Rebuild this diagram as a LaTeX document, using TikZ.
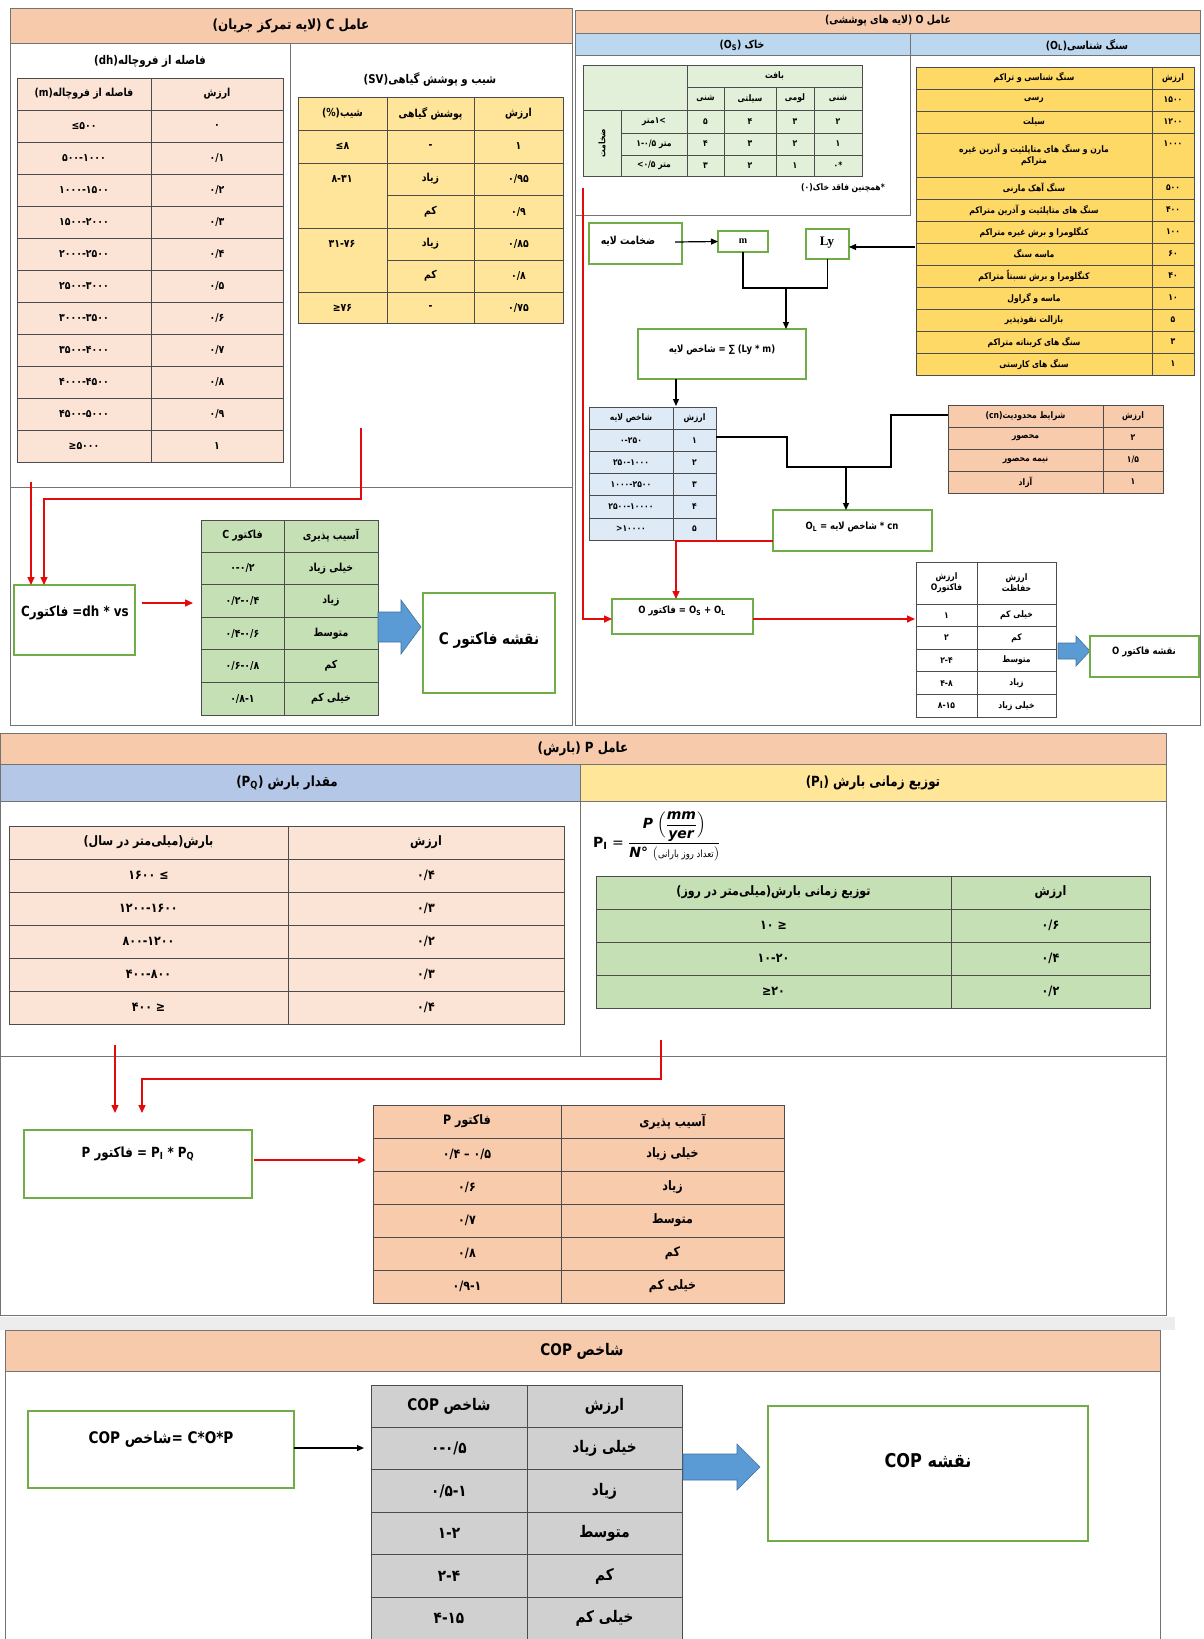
\documentclass[tikz,border=0pt]{standalone}
\usepackage{amsmath}
\usepackage{fontspec}
\setmainfont{DejaVu Sans}
\newfontfamily\farsi[Script=Arabic,FakeStretch=0.85]{DejaVu Sans}
\newfontfamily\farnum[FakeStretch=0.85]{DejaVu Sans}
\newfontfamily\serif{Liberation Serif}
\TeXXeTstate=1
\usetikzlibrary{arrows.meta}
\definecolor{hdrorange}{RGB}{247,202,172}
\definecolor{peach}{RGB}{251,228,213}
\definecolor{peachdk}{RGB}{248,203,173}
\definecolor{yel}{RGB}{255,229,153}
\definecolor{yeldk}{RGB}{255,217,102}
\definecolor{grn}{RGB}{197,224,180}
\definecolor{grnlt}{RGB}{226,239,217}
\definecolor{bluhdr}{RGB}{189,215,238}
\definecolor{blupq}{RGB}{180,199,231}
\definecolor{bluecell}{RGB}{222,235,247}
\definecolor{yelhdr}{RGB}{255,230,153}
\definecolor{grayc}{RGB}{208,208,208}
\definecolor{boxgreen}{RGB}{112,173,71}
\definecolor{arrowblue}{RGB}{91,155,213}
\definecolor{arrowbluedk}{RGB}{65,113,156}
\definecolor{redline}{RGB}{228,10,10}
\newcounter{cc}
\newcommand\tfill{white}
\newcommand\cfont{\farnum\bfseries\fontsize{11}{13}\selectfont}
\newcommand\fa[1]{{\farsi\beginR #1\endR}}
\newcommand\cbox[5]{\stepcounter{cc}%
  \draw[cellbox, fill=\tfill] ({#1},{#2}) rectangle ({#3},{#4});%
  \node[ctext] (n\thecc) at ({((#1)+(#3))/2},{((#2)+(#4))/2}) {#5};}
\newcommand\rtwo[4]{\cbox{\cA}{#1}{\cB}{#2}{#3}\cbox{\cB}{#1}{\cC}{#2}{#4}}
\newcommand\rthree[5]{\cbox{\cA}{#1}{\cB}{#2}{#3}\cbox{\cB}{#1}{\cC}{#2}{#4}\cbox{\cC}{#1}{\cD}{#2}{#5}}
\newcommand\urtwo[3]{\rtwo{\yT+\rH*#1}{\yT+\rH*#1+\rH}{#2}{#3}}
\newcommand\osrow[7]{\cbox{621}{#1}{687}{#2}{#3}\cbox{687}{#1}{724}{#2}{#4}\cbox{724}{#1}{776}{#2}{#5}\cbox{776}{#1}{814}{#2}{#6}\cbox{814}{#1}{862}{#2}{#7}}
\newcommand\gbox[5]{\node[gboxst, minimum width={#4-#2}, minimum height={#5-#3}] (#1) at ({(#2+#4)/2},{(#3+#5)/2}) {};}
\newcommand\barrow[6]{\filldraw[barrowst] ({#1},{#4-#5}) -- ({#3},{#4-#5}) -- ({#3},{#4-#6}) -- ({#2},{#4}) -- ({#3},{#4+#6}) -- ({#3},{#4+#5}) -- ({#1},{#4+#5}) -- cycle;}
\begin{document}
\begin{tikzpicture}[x=1pt,y=-1pt,
  cellbox/.style={draw=black!70, line width=0.7pt},
  ctext/.style={font=\cfont, inner sep=1pt, align=center},
  gboxst/.style={draw=boxgreen, line width=1.2pt, fill=white, inner sep=0pt, outer sep=0pt},
  btext/.style={font=\farnum\bfseries\fontsize{13}{15}\selectfont, inner sep=1pt, align=center},
  hdr/.style={font=\farnum\bfseries\fontsize{13}{15}\selectfont, inner sep=1pt},
  frameln/.style={draw=black!55, line width=0.8pt},
  redarr/.style={draw=redline, line width=1.5pt, -{Triangle[length=8pt,width=7pt]}},
  blkarr/.style={draw=black, line width=1.2pt, -{Triangle[length=7pt,width=6pt]}},
  blkln/.style={draw=black, line width=1.2pt},
  barrowst/.style={fill=arrowblue, draw=arrowbluedk, line width=0.6pt},
]
\useasboundingbox (0,0) rectangle (1203,1639);
\fill[white] (0,0) rectangle (1203,1639);

% ================= C panel
\filldraw[fill=hdrorange, draw=black!55, line width=0.8pt] (10,8) rectangle (572,43);
\node[hdr, font=\farnum\bfseries\fontsize{14}{16}\selectfont] (hC) at (291,26) {(\fa{لایه تمرکز جریان}) C \fa{عامل}};
\draw[frameln] (10,43) -- (10,725) -- (572,725) -- (572,43);
\draw[frameln] (290,43) -- (290,487);
\draw[frameln] (10,487) -- (572,487);
\node[hdr, font=\farnum\bfseries\fontsize{12}{14}\selectfont] (tdh) at (150,61) {(dh)\fa{فاصله از فروچاله}};
\node[hdr, font=\farnum\bfseries\fontsize{12}{14}\selectfont] (tsv) at (430,80) {(SV)\fa{شیب و پوشش گیاهی}};

% dh table
\renewcommand\tfill{peach}
\def\cA{17}\def\cB{151}\def\cC{283}
\rtwo{78}{110}{(m)\fa{فاصله از فروچاله}}{\fa{ارزش}}
\def\yT{110}\def\rH{32}
\urtwo{0}{≤۵۰۰}{۰}
\urtwo{1}{۵۰۰-۱۰۰۰}{۰/۱}
\urtwo{2}{۱۰۰۰-۱۵۰۰}{۰/۲}
\urtwo{3}{۱۵۰۰-۲۰۰۰}{۰/۳}
\urtwo{4}{۲۰۰۰-۲۵۰۰}{۰/۴}
\urtwo{5}{۲۵۰۰-۳۰۰۰}{۰/۵}
\urtwo{6}{۳۰۰۰-۳۵۰۰}{۰/۶}
\urtwo{7}{۳۵۰۰-۴۰۰۰}{۰/۷}
\urtwo{8}{۴۰۰۰-۴۵۰۰}{۰/۸}
\urtwo{9}{۴۵۰۰-۵۰۰۰}{۰/۹}
\urtwo{10}{≥۵۰۰۰}{۱}

% sv table
\renewcommand\tfill{yel}
\def\cA{298}\def\cB{387}\def\cC{474}\def\cD{563}
\rthree{97}{130}{(\%)\fa{شیب}}{\fa{پوشش گیاهی}}{\fa{ارزش}}
\rthree{130}{163}{≤۸}{-}{۱}
\cbox{298}{163}{387}{228}{}
\node[ctext] (sv1) at (342,179) {۸-۳۱};
\cbox{387}{163}{474}{195}{\fa{زیاد}}\cbox{474}{163}{563}{195}{۰/۹۵}
\cbox{387}{195}{474}{228}{\fa{کم}}\cbox{474}{195}{563}{228}{۰/۹}
\cbox{298}{228}{387}{292}{}
\node[ctext] (sv2) at (342,244) {۳۱-۷۶};
\cbox{387}{228}{474}{260}{\fa{زیاد}}\cbox{474}{228}{563}{260}{۰/۸۵}
\cbox{387}{260}{474}{292}{\fa{کم}}\cbox{474}{260}{563}{292}{۰/۸}
\rthree{292}{323}{≥۷۶}{-}{۰/۷۵}

% C lower
\gbox{bCf}{14}{585}{135}{655}
\node[btext, font=\farnum\bfseries\fontsize{14}{16}\selectfont] (tCf) at (75,613) {C\fa{فاکتور} =dh * vs};
\renewcommand\tfill{grn}
\def\cA{201}\def\cB{284}\def\cC{378}
\rtwo{520}{552}{\fa{فاکتور C}}{\fa{آسیب پذیری}}
\def\yT{552}\def\rH{32.6}
\urtwo{0}{۰-۰/۲}{\fa{خیلی زیاد}}
\urtwo{1}{۰/۲-۰/۴}{\fa{زیاد}}
\urtwo{2}{۰/۴-۰/۶}{\fa{متوسط}}
\urtwo{3}{۰/۶-۰/۸}{\fa{کم}}
\urtwo{4}{۰/۸-۱}{\fa{خیلی کم}}
\barrow{378}{421}{401}{627}{15}{27}
\gbox{bCmap}{423}{593}{555}{693}
\node[btext, font=\farnum\bfseries\fontsize{16}{18}\selectfont] (tCmap) at (489,640) {\fa{نقشه فاکتور C}};
\coordinate (r1s) at (31,482);
\draw[redarr] (r1s) -- (bCf.north -| r1s);
\coordinate (r2s) at (361,428);
\coordinate (r2c) at (44,499);
\draw[redarr] (r2s) -- (361,499) -- (r2c) -- (bCf.north -| r2c);
\coordinate (a1) at (142,603);
\coordinate (a2) at (193,603);
\draw[redarr] (a1) -- (a2);

% ================= O panel
\filldraw[fill=hdrorange, draw=black!55, line width=0.8pt] (575,10) rectangle (1200,33);
\node[hdr, font=\farnum\bfseries\fontsize{11}{13}\selectfont] (hO) at (888,21) {(\fa{لایه های پوششی}) O \fa{عامل}};
\filldraw[fill=bluhdr, draw=black!55, line width=0.8pt] (575,33) rectangle (910,55);
\filldraw[fill=bluhdr, draw=black!55, line width=0.8pt] (910,33) rectangle (1200,55);
\node[hdr, font=\farnum\bfseries\fontsize{11}{13}\selectfont] (hOs) at (742,45) {(O\textsubscript{S}) \fa{خاک}};
\node[hdr, font=\farnum\bfseries\fontsize{11}{13}\selectfont] (hOl) at (1087,45) {(O\textsubscript{L})\fa{سنگ شناسی}};
\draw[frameln] (575,55) -- (575,725) -- (1200,725) -- (1200,55);
\draw[frameln] (910,55) -- (910,215) -- (575,215);

% Os table
\renewcommand\cfont{\farnum\bfseries\fontsize{9}{11}\selectfont}
\renewcommand\tfill{grnlt}
\cbox{583}{65}{687}{110}{}
\cbox{687}{65}{862}{87}{\fa{بافت}}
\cbox{687}{87}{724}{110}{\fa{شنی}}\cbox{724}{87}{776}{110}{\fa{سیلتی}}\cbox{776}{87}{814}{110}{\fa{لومی}}\cbox{814}{87}{862}{110}{\fa{شنی}}
\cbox{583}{110}{621}{176}{}
\node[ctext, rotate=90] (zkh) at (602,143) {\fa{ضخامت}};
\osrow{110}{133}{\fa{متر}۱<}{۵}{۴}{۳}{۲}
\osrow{133}{155}{۱-۰/۵ \fa{متر}}{۴}{۳}{۲}{۱}
\osrow{155}{176}{<۰/۵ \fa{متر}}{۳}{۲}{۱}{۰*}
\node[ctext] (fnote) at (843,188) {(۰)\fa{همچنین فاقد خاک}*};

% OL table
\renewcommand\tfill{yeldk}
\def\cA{916}\def\cB{1152}\def\cC{1194}
\rtwo{67}{89}{\fa{سنگ شناسی و تراکم}}{\fa{ارزش}}
\rtwo{89}{111}{\fa{رسی}}{۱۵۰۰}
\rtwo{111}{133}{\fa{سیلت}}{۱۲۰۰}
\cbox{916}{133}{1152}{177}{\fa{مارن و سنگ های متاپلئیت و آذرین غیره}\\\fa{متراکم}}
\cbox{1152}{133}{1194}{177}{}
\node[ctext] (v1000) at (1173,144) {۱۰۰۰};
\def\yT{177}\def\rH{22}
\urtwo{0}{\fa{سنگ آهک مارنی}}{۵۰۰}
\urtwo{1}{\fa{سنگ های متاپلئیت و آذرین متراکم}}{۴۰۰}
\urtwo{2}{\fa{کنگلومرا و برش غیره متراکم}}{۱۰۰}
\urtwo{3}{\fa{ماسه سنگ}}{۶۰}
\urtwo{4}{\fa{کنگلومرا و برش نسبتاً متراکم}}{۴۰}
\urtwo{5}{\fa{ماسه و گراول}}{۱۰}
\urtwo{6}{\fa{بازالت نفوذپذیر}}{۵}
\urtwo{7}{\fa{سنگ های کربناته متراکم}}{۳}
\urtwo{8}{\fa{سنگ های کارستی}}{۱}

% flow boxes
\gbox{bTh}{589}{223}{682}{264}
\node[btext, font=\farnum\bfseries\fontsize{11}{13}\selectfont] (tTh) at (628,241) {\fa{ضخامت لایه}};
\gbox{bM}{718}{231}{768}{252}
\node[btext, font=\serif\bfseries\fontsize{10}{12}\selectfont] (tM) at (743,241) {m};
\gbox{bLy}{806}{229}{849}{259}
\node[btext, font=\serif\bfseries\fontsize{13}{15}\selectfont] (tLy) at (827,243) {Ly};
\gbox{bSum}{638}{329}{806}{379}
\node[btext, font=\farnum\bfseries\fontsize{10}{12}\selectfont] (tSum) at (722,350) {\fa{شاخص لایه} = ∑ (Ly * m)};
\coordinate (thE) at (675,242);
\draw[blkarr] (thE) -- (bM.west);
\coordinate (olW) at (915,247);
\draw[blkarr] (olW) -- (bLy.east |- olW);
\coordinate (jn) at (786,288);
\draw[blkln] (bM.south) |- (jn) -| (bLy.south);
\draw[blkarr] (jn) -- (bSum.north -| jn);
\coordinate (lt) at (676,406);
\draw[blkarr] (bSum.south -| lt) -- (lt);

% layer index table
\renewcommand\tfill{bluecell}
\def\cA{589}\def\cB{673}\def\cC{716}
\def\yT{407}\def\rH{22.2}
\urtwo{0}{\fa{شاخص لایه}}{\fa{ارزش}}
\urtwo{1}{۰-۲۵۰}{۱}
\urtwo{2}{۲۵۰-۱۰۰۰}{۲}
\urtwo{3}{۱۰۰۰-۲۵۰۰}{۳}
\urtwo{4}{۲۵۰۰-۱۰۰۰۰}{۴}
\urtwo{5}{>۱۰۰۰۰}{۵}

% cn table
\renewcommand\tfill{peachdk}
\def\cA{948}\def\cB{1103}\def\cC{1163}
\def\yT{405}\def\rH{22}
\urtwo{0}{(cn)\fa{شرایط محدودیت}}{\fa{ارزش}}
\urtwo{1}{\fa{محصور}}{۲}
\urtwo{2}{\fa{نیمه محصور}}{۱/۵}
\urtwo{3}{\fa{آزاد}}{۱}

\coordinate (lr1) at (716,437);
\coordinate (cnL) at (948,415);
\coordinate (j2) at (846,467);
\draw[blkln] (lr1) -- (787,437) -- (787,467) -- (891,467) -- (891,415) -- (cnL);
\gbox{bOL}{773}{510}{932}{551}
\node[btext, font=\farnum\bfseries\fontsize{10}{12}\selectfont] (tOL) at (852,527) {O\textsubscript{L} = \fa{شاخص لایه} * cn};
\draw[blkarr] (j2) -- (bOL.north -| j2);

\gbox{bO}{612}{599}{753}{634}
\node[btext, font=\farnum\bfseries\fontsize{10}{12}\selectfont] (tO) at (682,611) {O \fa{فاکتور} = O\textsubscript{S} + O\textsubscript{L}};
\coordinate (olL) at (773,541);
\coordinate (rj) at (676,541);
\draw[redarr] (olL) -- (rj) -- (bO.north -| rj);
\coordinate (rl1) at (583,188);
\coordinate (rl2) at (583,619);
\draw[redarr] (rl1) -- (rl2) -- (bO.west |- rl2);
\coordinate (oft) at (915,619);
\draw[redarr] (bO.east |- oft) -- (oft);

% O factor table
\renewcommand\tfill{white}
\def\cA{916}\def\cB{977}\def\cC{1056}
\rtwo{562}{604}{\fa{ارزش}\\O\fa{فاکتور}}{\fa{ارزش}\\\fa{حفاظت}}
\def\yT{604}\def\rH{22.6}
\urtwo{0}{۱}{\fa{خیلی کم}}
\urtwo{1}{۲}{\fa{کم}}
\urtwo{2}{۲-۴}{\fa{متوسط}}
\urtwo{3}{۴-۸}{\fa{زیاد}}
\urtwo{4}{۸-۱۵}{\fa{خیلی زیاد}}
\barrow{1058}{1090}{1076}{651}{8}{15}
\gbox{bOmap}{1090}{636}{1199}{677}
\node[btext, font=\farnum\bfseries\fontsize{10}{12}\selectfont] (tOmap) at (1144,652) {\fa{نقشه فاکتور O}};

% ================= P panel
\filldraw[fill=hdrorange, draw=black!55, line width=0.8pt] (0.5,733) rectangle (1166,764);
\node[hdr, font=\farnum\bfseries\fontsize{14}{16}\selectfont] (hP) at (583,749) {(\fa{بارش}) P \fa{عامل}};
\filldraw[fill=blupq, draw=black!55, line width=0.8pt] (0.5,764) rectangle (580,801);
\filldraw[fill=yelhdr, draw=black!55, line width=0.8pt] (580,764) rectangle (1166,801);
\node[hdr, font=\farnum\bfseries\fontsize{14}{16}\selectfont] (hPQ) at (287,783) {(P\textsubscript{Q}) \fa{مقدار بارش}};
\node[hdr, font=\farnum\bfseries\fontsize{14}{16}\selectfont] (hPI) at (873,783) {(P\textsubscript{I}) \fa{توزیع زمانی بارش}};
\draw[frameln] (0.5,801) -- (0.5,1315) -- (1166,1315) -- (1166,801);
\draw[frameln] (580,801) -- (580,1056);
\draw[frameln] (0.5,1056) -- (1166,1056);

\renewcommand\cfont{\farnum\bfseries\fontsize{13}{15}\selectfont}
\renewcommand\tfill{peach}
\def\cA{9}\def\cB{288}\def\cC{564}
\def\yT{826}\def\rH{33}
\urtwo{0}{(\fa{میلی^^^^200cمتر در سال})\fa{بارش}}{\fa{ارزش}}
\urtwo{1}{۱۶۰۰~≤}{۰/۴}
\urtwo{2}{۱۲۰۰-۱۶۰۰}{۰/۳}
\urtwo{3}{۸۰۰-۱۲۰۰}{۰/۲}
\urtwo{4}{۴۰۰-۸۰۰}{۰/۳}
\urtwo{5}{۴۰۰~≥}{۰/۴}

\node[anchor=west, inner sep=1pt, font=\fontsize{14}{16}\selectfont] (fPI) at (592,836)
  {\textbf{P\textsubscript{I}} = $\dfrac{\text{\textbf{\textit{P}}}\;\Bigl(\dfrac{\text{\textbf{\textit{mm}}}}{\text{\textbf{\textit{yer}}}}\Bigr)}{\text{\textbf{\textit{N°}}}\ (\text{\farsi\fontsize{10}{12}\selectfont\beginR تعداد روز بارانی\endR})}$};

\renewcommand\tfill{grn}
\def\cA{596}\def\cB{951}\def\cC{1150}
\def\yT{876}\def\rH{33}
\urtwo{0}{(\fa{میلی^^^^200cمتر در روز})\fa{توزیع زمانی بارش}}{\fa{ارزش}}
\urtwo{1}{۱۰~≥}{۰/۶}
\urtwo{2}{۱۰-۲۰}{۰/۴}
\urtwo{3}{≥۲۰}{۰/۲}

\coordinate (p1s) at (115,1045);
\coordinate (p1e) at (115,1113);
\draw[redarr] (p1s) -- (p1e);
\coordinate (p2s) at (661,1040);
\coordinate (p2c) at (142,1079);
\coordinate (p2e) at (142,1113);
\draw[redarr] (p2s) -- (661,1079) -- (p2c) -- (p2e);

\gbox{bP}{24}{1130}{252}{1198}
\node[btext, font=\farnum\bfseries\fontsize{14}{16}\selectfont] (tP) at (138,1154) {P \fa{فاکتور} = P\textsubscript{I} * P\textsubscript{Q}};
\coordinate (pTl) at (366,1160);
\draw[redarr] ([xshift=2pt]bP.east |- pTl) -- (pTl);

\renewcommand\tfill{peachdk}
\def\cA{373}\def\cB{561}\def\cC{784}
\def\yT{1105}\def\rH{33}
\urtwo{0}{\fa{فاکتور P}}{\fa{آسیب پذیری}}
\urtwo{1}{۰/۴ – ۰/۵}{\fa{خیلی زیاد}}
\urtwo{2}{۰/۶}{\fa{زیاد}}
\urtwo{3}{۰/۷}{\fa{متوسط}}
\urtwo{4}{۰/۸}{\fa{کم}}
\urtwo{5}{۰/۹-۱}{\fa{خیلی کم}}

% ================= COP panel
\fill[black!7] (0,1317) rectangle (1175,1330);
\filldraw[fill=hdrorange, draw=black!55, line width=0.8pt] (5,1330) rectangle (1160,1371);
\node[hdr, font=\farnum\bfseries\fontsize{16}{18}\selectfont] (hCOP) at (582,1351) {\fa{شاخص COP}};
\draw[frameln] (5,1371) -- (5,1639);
\draw[frameln] (1160,1371) -- (1160,1639);
\gbox{bCOP}{28}{1411}{294}{1488}
\node[btext, font=\farnum\bfseries\fontsize{16}{18}\selectfont] (tCOP) at (161,1439) {COP \fa{شاخص}= C*O*P};
\coordinate (copTl) at (364,1448);
\draw[blkarr] (bCOP.east |- copTl) -- (copTl);

\renewcommand\cfont{\farnum\bfseries\fontsize{16}{18}\selectfont}
\renewcommand\tfill{grayc}
\def\cA{371}\def\cB{527}\def\cC{682}
\rtwo{1385}{1427}{\fa{شاخص COP}}{\fa{ارزش}}
\def\yT{1427}\def\rH{42.6}
\urtwo{0}{۰-۰/۵}{\fa{خیلی زیاد}}
\urtwo{1}{۰/۵-۱}{\fa{زیاد}}
\urtwo{2}{۱-۲}{\fa{متوسط}}
\urtwo{3}{۲-۴}{\fa{کم}}
\urtwo{4}{۴-۱۵}{\fa{خیلی کم}}
\barrow{683}{760}{737}{1467}{13}{23}
\gbox{bCOPmap}{768}{1406}{1088}{1541}
\node[btext, font=\farnum\bfseries\fontsize{19}{21}\selectfont] (tCOPmap) at (928,1461) {\fa{نقشه COP}};
\end{tikzpicture}
\end{document}
